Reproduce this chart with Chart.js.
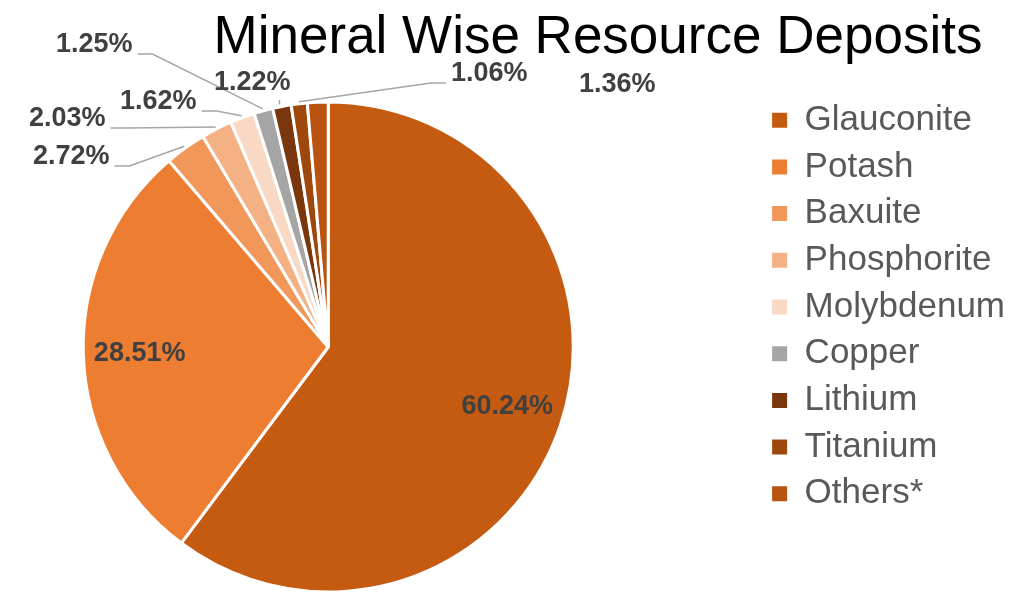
<!DOCTYPE html>
<html>
<head>
<meta charset="utf-8">
<title>Mineral Wise Resource Deposits</title>
<script src="https://cdn.jsdelivr.net/npm/chart.js@4/dist/chart.umd.min.js"></script>
<style>
  html, body { margin:0; padding:0; background:#fff; overflow:hidden; }
  /* canvas is a bit larger than the page so the pie sits where the original had it */
  #wrap { width:1015px; height:592px; overflow:hidden; position:relative; }
  #chart { position:absolute; left:-104px; top:0; }
</style>
</head>
<body>
<div id="wrap"><canvas id="chart" width="1119" height="603"></canvas></div>
<script>
// data
const chartTitle = 'Mineral Wise Resource Deposits';
const minerals = ['Glauconite', 'Potash', 'Baxuite', 'Phosphorite', 'Molybdenum', 'Copper', 'Lithium', 'Titanium', 'Others*'];
const shares = [60.24, 28.51, 2.72, 2.03, 1.62, 1.25, 1.22, 1.06, 1.36];
const sliceColors = ['#C55A11', '#ED7D31', '#F1975A', '#F4B183', '#F9D8C4', '#A5A5A5', '#7A360C', '#9E480E', '#B8540F'];

const FONT = '"Liberation Sans", Arial, sans-serif';
const SHIFT_X = 104; // canvas offset against the page

// label placement, offset from the pie centre in px (null = inside the slice)
// third item: how the leader line is drawn
const labelSpots = [
  null, null,
  [-257, -190, 'side'],
  [-261, -228, 'side'],
  [-170, -245, 'side'],
  [-234, -302, 'side'],
  [-76, -264, 'tick'],
  [161, -273, 'side'],
  [289, -262, 'none']
];

const pieLabels = {
  id: 'pieLabels',
  afterDatasetsDraw(chart) {
    const ctx = chart.ctx;
    const arcs = chart.getDatasetMeta(0).data;
    ctx.save();
    ctx.font = 'bold 27px ' + FONT;
    ctx.fillStyle = '#404040';
    ctx.textAlign = 'center';
    ctx.textBaseline = 'middle';
    arcs.forEach((arc, i) => {
      const {x, y, startAngle, endAngle, outerRadius} = arc.getProps(['x', 'y', 'startAngle', 'endAngle', 'outerRadius'], true);
      const mid = (startAngle + endAngle) / 2;
      const text = shares[i].toFixed(2) + '%';
      const spot = labelSpots[i];
      if (!spot) {
        ctx.fillText(text, x + Math.cos(mid) * outerRadius * 0.77, y + Math.sin(mid) * outerRadius * 0.77);
        return;
      }
      const lx = x + spot[0], ly = y + spot[1];
      ctx.fillText(text, lx, ly);
      const w = ctx.measureText(text).width;
      const ex = x + Math.cos(mid) * (outerRadius + 2);
      const ey = y + Math.sin(mid) * (outerRadius + 2);
      ctx.strokeStyle = '#A6A6A6';
      ctx.lineWidth = 1.5;
      ctx.beginPath();
      if (spot[2] === 'tick') {
        ctx.moveTo(ex - 2, ey);
        ctx.lineTo(ex - 2, ly + 17);
      } else if (spot[2] === 'side') {
        const side = ex < lx ? -1 : 1;
        const endX = lx + side * (w / 2 + 5);
        const lineY = ly + 9;
        ctx.moveTo(ex, ey);
        ctx.lineTo(endX + side * 15, lineY);
        ctx.lineTo(endX, lineY);
      }
      ctx.stroke();
    });
    ctx.restore();
  }
};

const titleText = {
  id: 'titleText',
  afterDraw(chart) {
    const ctx = chart.ctx;
    ctx.save();
    ctx.font = '53px ' + FONT;
    ctx.fillStyle = '#000000';
    ctx.textAlign = 'center';
    ctx.textBaseline = 'alphabetic';
    ctx.fillText(chartTitle, 598 + SHIFT_X, 53);
    ctx.restore();
  }
};

new Chart(document.getElementById('chart'), {
  type: 'pie',
  data: {
    labels: minerals,
    datasets: [{
      data: shares,
      backgroundColor: sliceColors,
      borderColor: '#FFFFFF',
      borderWidth: 3
    }]
  },
  options: {
    responsive: false,
    animation: false,
    radius: 245,
    layout: { padding: { left: 0, top: 91, right: 0, bottom: 0 } },
    plugins: {
      tooltip: { enabled: false },
      legend: {
        position: 'right',
        align: 'start',
        labels: {
          boxWidth: 15,
          boxHeight: 15,
          padding: 11.7,
          color: '#595959',
          font: { size: 35, family: FONT },
          generateLabels: (chart) => Chart.overrides.doughnut.plugins.legend.labels.generateLabels(chart)
            .map(item => Object.assign(item, { lineWidth: 0 }))
        }
      }
    }
  },
  plugins: [pieLabels, titleText]
});
</script>
</body>
</html>
